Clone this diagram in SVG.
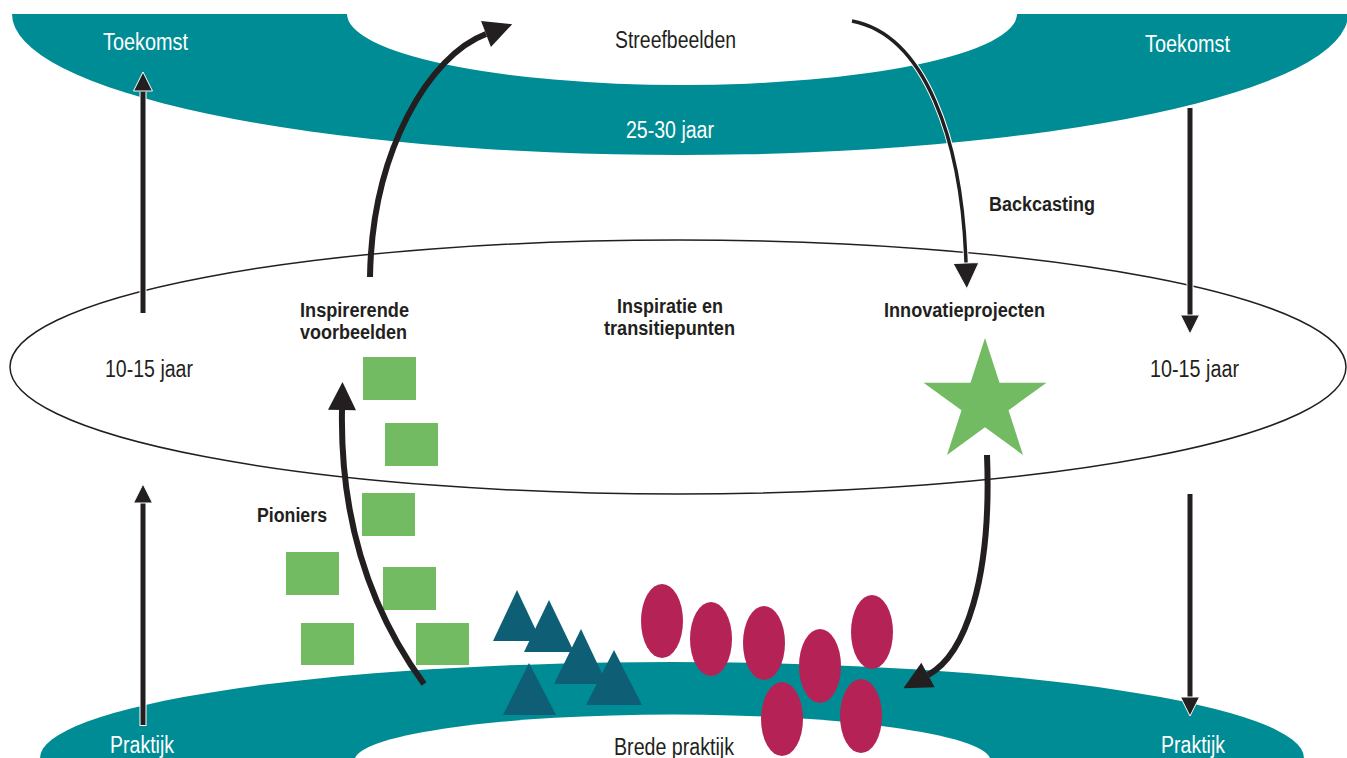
<svg xmlns="http://www.w3.org/2000/svg" width="1347" height="758" viewBox="0 0 1347 758">
<style>
.teal{fill:#008c94}
.white{fill:#ffffff}
.sq{fill:#72bb63}
.tri{fill:#0e5e76}
.ov{fill:#b52356}
.reg{font-family:"Liberation Sans",Arial,sans-serif;font-size:23px}
.bold{font-family:"Liberation Sans",Arial,sans-serif;font-size:19.5px;font-weight:bold;fill:#231f20}
.wt{fill:#ffffff}
.bk{fill:#231f20}
.ln{fill:none;stroke:#231f20;stroke-width:5}
.lnw{fill:none;stroke:#ffffff;stroke-width:7}
.cv{fill:none;stroke:#231f20;stroke-width:6}
</style>
<defs>
<marker id="hs" markerUnits="userSpaceOnUse" viewBox="-1 -11 22 22" markerWidth="22" markerHeight="22" refX="0" refY="0" orient="auto">
<path d="M0,-9.5 L19,0 L0,9.5 Z" fill="#231f20" stroke="#ffffff" stroke-width="1"/>
</marker>
<marker id="hm" markerUnits="userSpaceOnUse" viewBox="-1 -15 30 30" markerWidth="30" markerHeight="30" refX="0" refY="0" orient="auto">
<path d="M0,-13 L26,0 L0,13 Z" fill="#231f20" stroke="#ffffff" stroke-width="1"/>
</marker>
<marker id="hb" markerUnits="userSpaceOnUse" viewBox="-1 -16 32 32" markerWidth="32" markerHeight="32" refX="0" refY="0" orient="auto">
<path d="M0,-14 L28,0 L0,14 Z" fill="#231f20"/>
</marker>
</defs>
<rect width="1347" height="758" fill="#ffffff"/>

<g id="toekomst-band">
<path class="teal" d="M12,14 A668,141 0 0 0 1348,14 Z"/>
<path class="white" d="M347,14 A335,71 0 0 0 1017,14 Z"/>
<text class="reg wt" x="103" y="50" textLength="85" lengthAdjust="spacingAndGlyphs">Toekomst</text>
<text class="reg wt" x="1145" y="52" textLength="85" lengthAdjust="spacingAndGlyphs">Toekomst</text>
<text class="reg bk" x="615" y="48" textLength="121" lengthAdjust="spacingAndGlyphs">Streefbeelden</text>
<text class="reg wt" x="626" y="138" textLength="88" lengthAdjust="spacingAndGlyphs">25-30 jaar</text>
</g>

<g id="praktijk-band">
<path class="teal" d="M40,758 A632,96 0 0 1 1304,758 Z"/>
<path class="white" d="M355,758 A318,46 0 0 1 990,758 Z"/>
<text class="reg wt" x="110" y="753" textLength="64" lengthAdjust="spacingAndGlyphs">Praktijk</text>
<text class="reg wt" x="1161" y="753" textLength="64" lengthAdjust="spacingAndGlyphs">Praktijk</text>
<text class="reg bk" x="614" y="755" textLength="120" lengthAdjust="spacingAndGlyphs">Brede praktijk</text>
</g>

<g id="midden-ellips">
<ellipse cx="678" cy="367" rx="668" ry="127" fill="none" stroke="#231f20" stroke-width="1.5"/>
<text class="reg bk" x="105" y="377" textLength="88" lengthAdjust="spacingAndGlyphs">10-15 jaar</text>
<text class="reg bk" x="1150" y="377" textLength="89" lengthAdjust="spacingAndGlyphs">10-15 jaar</text>
</g>

<g id="inspirerende-voorbeelden">
<text class="bold" x="300" y="317" textLength="109" lengthAdjust="spacingAndGlyphs">Inspirerende</text>
<text class="bold" x="300" y="339" textLength="107" lengthAdjust="spacingAndGlyphs">voorbeelden</text>
</g>

<g id="inspiratie-transitiepunten">
<text class="bold" x="617" y="313" textLength="106" lengthAdjust="spacingAndGlyphs">Inspiratie en</text>
<text class="bold" x="604" y="335" textLength="131" lengthAdjust="spacingAndGlyphs">transitiepunten</text>
</g>

<g id="innovatieprojecten">
<text class="bold" x="884" y="317" textLength="161" lengthAdjust="spacingAndGlyphs">Innovatieprojecten</text>
<polygon fill="#72bb63" points="985,338 999.5,382.7 1046.5,382.7 1008.5,410.3 1023,455 985,427.3 947,455 961.5,410.3 923.5,382.7 970.5,382.7"/>
</g>

<g id="backcasting">
<text class="bold" x="989" y="211" textLength="106" lengthAdjust="spacingAndGlyphs">Backcasting</text>
</g>

<g id="pioniers">
<text class="bold" x="257" y="522" textLength="70" lengthAdjust="spacingAndGlyphs">Pioniers</text>
<rect class="sq" x="363" y="357" width="53" height="43"/>
<rect class="sq" x="385" y="423" width="53" height="43"/>
<rect class="sq" x="362" y="493" width="53" height="43"/>
<rect class="sq" x="286" y="552" width="53" height="43"/>
<rect class="sq" x="383" y="567" width="53" height="43"/>
<rect class="sq" x="301" y="623" width="53" height="42"/>
<rect class="sq" x="416" y="623" width="53" height="42"/>
</g>

<g id="driehoeken">
<polygon class="tri" points="517,590 493,641 541,641"/>
<polygon class="tri" points="549,600 524,652 574,652"/>
<polygon class="tri" points="581,629 554,684 607,684"/>
<polygon class="tri" points="614,650 586,705 642,705"/>
<polygon class="tri" points="529,663 503,715 556,715"/>
</g>

<g id="ovalen">
<ellipse class="ov" cx="662" cy="621" rx="21" ry="37"/>
<ellipse class="ov" cx="711" cy="639" rx="21" ry="37"/>
<ellipse class="ov" cx="764" cy="643" rx="21" ry="37"/>
<ellipse class="ov" cx="820" cy="666" rx="21" ry="37"/>
<ellipse class="ov" cx="872" cy="632" rx="21" ry="37"/>
<ellipse class="ov" cx="782" cy="719" rx="21" ry="37"/>
<ellipse class="ov" cx="861" cy="716" rx="21" ry="37"/>
</g>

<g id="connectors">
<path class="lnw" d="M143,313 V92"/>
<path class="ln" d="M143,313 V91" marker-end="url(#hs)"/>
<path class="lnw" d="M143,726 V504"/>
<path class="ln" d="M143,725 V503" marker-end="url(#hs)"/>
<path class="lnw" d="M1190,108 V314"/>
<path class="ln" d="M1190,108 V315" marker-end="url(#hs)"/>
<path class="lnw" d="M1190,494 V696"/>
<path class="ln" d="M1190,494 V697" marker-end="url(#hs)"/>
<path fill="none" stroke="#ffffff" stroke-width="5.5" d="M852,21 C925,35 962,140 966,262"/>
<path fill="none" stroke="#231f20" stroke-width="3.5" d="M852,21 C925,35 962,140 966,263" marker-end="url(#hm)"/>
<path class="cv" d="M370,277 C372,150 430,55 486,34" marker-end="url(#hb)"/>
<path class="cv" d="M424,684 C370,610 340,520 342,410" marker-end="url(#hb)"/>
<path class="cv" d="M987,455 C992,580 965,655 928,675" marker-end="url(#hb)"/>
</g>
</svg>
